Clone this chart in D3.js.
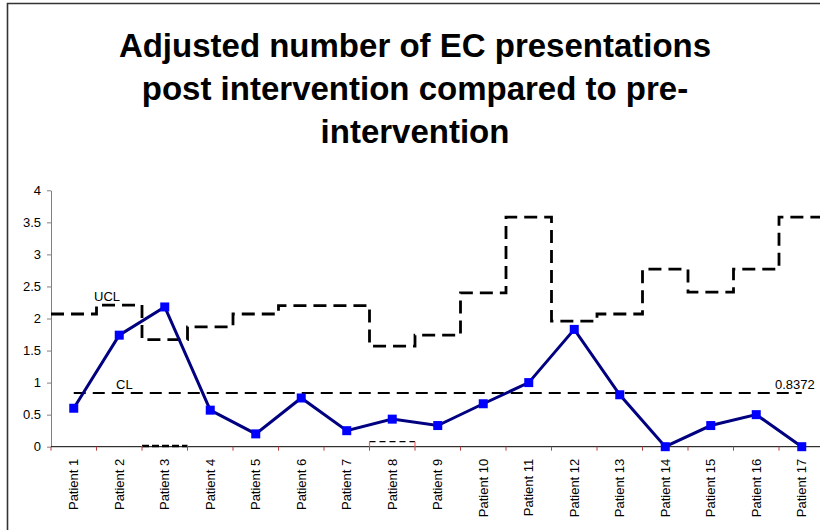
<!DOCTYPE html>
<html>
<head>
<meta charset="utf-8">
<script src="https://cdn.jsdelivr.net/npm/d3@7"></script>
<style>
  html, body { margin: 0; background: #fff; overflow: hidden; }
  svg { display: block; font-family: "Liberation Sans", Arial, sans-serif; }
</style>
</head>
<body>
<div class="chart"></div>
<script>
// data
const patients = ['Patient 1', 'Patient 2', 'Patient 3', 'Patient 4', 'Patient 5', 'Patient 6',
  'Patient 7', 'Patient 8', 'Patient 9', 'Patient 10', 'Patient 11', 'Patient 12',
  'Patient 13', 'Patient 14', 'Patient 15', 'Patient 16', 'Patient 17'];
const ratio = [0.60, 1.74, 2.18, 0.57, 0.20, 0.76, 0.25, 0.43, 0.33, 0.67, 1.00, 1.83, 0.81, 0.00, 0.33, 0.50, 0.00];
const ucl = [2.07, 2.21, 1.67, 1.87, 2.07, 2.20, 2.20, 1.57, 1.74, 2.40, 3.58, 1.96, 2.07, 2.77, 2.41, 2.77, 3.58];
const lcl = [0, 0, 0.01, 0, 0, 0, 0, 0.08, 0, 0, 0, 0, 0, 0, 0, 0, 0];
const clValue = 0.8372;
const yTicks = [0, 0.5, 1, 1.5, 2, 2.5, 3, 3.5, 4];
const titleLines = ['Adjusted number of EC presentations', 'post intervention compared to pre-', 'intervention'];

(function(){
    const svg_width = 820;
    const svg_height = 530;
    const plot = { left: 51, right: 824.5, top: 190.3, bottom: 446.7 };

    const svg = d3.select('.chart').append('svg')
        .attr('width', svg_width).attr('height', svg_height);

    // chart frame: only the left and top edges are inside the picture
    svg.append('path')
        .attr('d', `M7.5,${svg_height + 10}V3.5H${svg_width + 10}`)
        .style('fill', 'none').style('stroke', '#333').style('stroke-width', 1.6);

    // title
    svg.append('g').selectAll('text').data(titleLines).enter()
        .append('text')
        .attr('x', 415)
        .attr('y', (d, i) => 57 + i * 43)
        .attr('text-anchor', 'middle')
        .style('font-size', '33px').style('font-weight', 'bold')
        .text(d => d);

    // scales
    const xScale = d3.scaleBand().domain(patients).range([plot.left, plot.right]);
    const yScale = d3.scaleLinear().domain([0, 4]).range([plot.bottom, plot.top]);
    const cx = d => xScale(d) + xScale.bandwidth() / 2;

    // y axis
    const yAxis = d3.axisLeft(yScale).tickValues(yTicks)
        .tickFormat(d3.format('~g')).tickSizeInner(4).tickSizeOuter(0).tickPadding(6);
    const yG = svg.append('g').attr('transform', `translate(${plot.left},0)`).call(yAxis);
    yG.select('.domain').style('stroke', '#808080');
    yG.selectAll('.tick line').style('stroke', '#808080');
    yG.selectAll('.tick text').style('font-size', '13px').style('fill', '#000')
        .style('font-family', '"Liberation Sans", Arial, sans-serif');

    // x axis: ticks on the category boundaries
    const bounds = patients.map(p => xScale(p)).concat([plot.right]);
    svg.append('line')
        .attr('x1', plot.left).attr('x2', svg_width)
        .attr('y1', plot.bottom).attr('y2', plot.bottom)
        .style('stroke', '#000').style('stroke-width', 1);
    svg.append('g').selectAll('line').data(bounds).enter()
        .append('line')
        .attr('x1', d => d).attr('x2', d => d)
        .attr('y1', plot.bottom).attr('y2', plot.bottom + 4)
        .style('stroke', '#c04040').style('stroke-width', 1);
    svg.append('g').selectAll('text').data(patients).enter()
        .append('text')
        .attr('transform', d => `translate(${cx(d) + 4.5},${plot.bottom + 12}) rotate(-90)`)
        .attr('text-anchor', 'end')
        .style('font-size', '13px')
        .text(d => d);

    // step lines for limits
    const stepGen = d3.line().x(d => d[0]).y(d => yScale(d[1])).curve(d3.curveStepAfter);
    const stepPoints = arr => arr.map((v, i) => [xScale(patients[i]), v])
        .concat([[plot.right, arr[arr.length - 1]]]);

    // LCL: dashed horizontals, red risers
    lcl.forEach((v, i) => {
        if (v > 0) {
            const x0 = xScale(patients[i]), x1 = x0 + xScale.bandwidth();
            svg.append('line').attr('x1', x0).attr('x2', x1)
                .attr('y1', yScale(v)).attr('y2', yScale(v))
                .style('stroke', '#000').style('stroke-width', i === 2 ? 2.5 : 1.2)
                .style('stroke-dasharray', i === 2 ? '7,3' : '6,4');
            [x0, x1].forEach(x => svg.append('line')
                .attr('x1', x).attr('x2', x)
                .attr('y1', yScale(v)).attr('y2', plot.bottom)
                .style('stroke', '#ff6060').style('stroke-width', 1.2));
        }
    });

    // UCL
    svg.append('path')
        .attr('d', stepGen(stepPoints(ucl)))
        .style('fill', 'none').style('stroke', '#000')
        .style('stroke-width', 2.8).style('stroke-dasharray', '13,7');

    // CL
    svg.append('line')
        .attr('x1', cx(patients[0])).attr('x2', cx(patients[patients.length - 1]))
        .attr('y1', yScale(clValue)).attr('y2', yScale(clValue))
        .style('stroke', '#000').style('stroke-width', 2).style('stroke-dasharray', '12,7');

    // data series
    const lineGen = d3.line().x((d, i) => cx(patients[i])).y(d => yScale(d));
    svg.append('path')
        .attr('d', lineGen(ratio))
        .style('fill', 'none').style('stroke', '#000080').style('stroke-width', 3);
    svg.append('g').selectAll('rect').data(ratio).enter()
        .append('rect')
        .attr('x', (d, i) => cx(patients[i]) - 4.5)
        .attr('y', d => yScale(d) - 4.5)
        .attr('width', 9).attr('height', 9)
        .style('fill', '#0000ff');

    // labels
    const labels = [
        { text: 'UCL', x: 94, y: 301 },
        { text: 'CL', x: 116, y: 389 },
        { text: clValue.toString(), x: 775, y: 389 }
    ];
    svg.append('g').selectAll('text').data(labels).enter()
        .append('text')
        .attr('x', d => d.x).attr('y', d => d.y)
        .style('font-size', '13px')
        .text(d => d.text);
})();
</script>
</body>
</html>
